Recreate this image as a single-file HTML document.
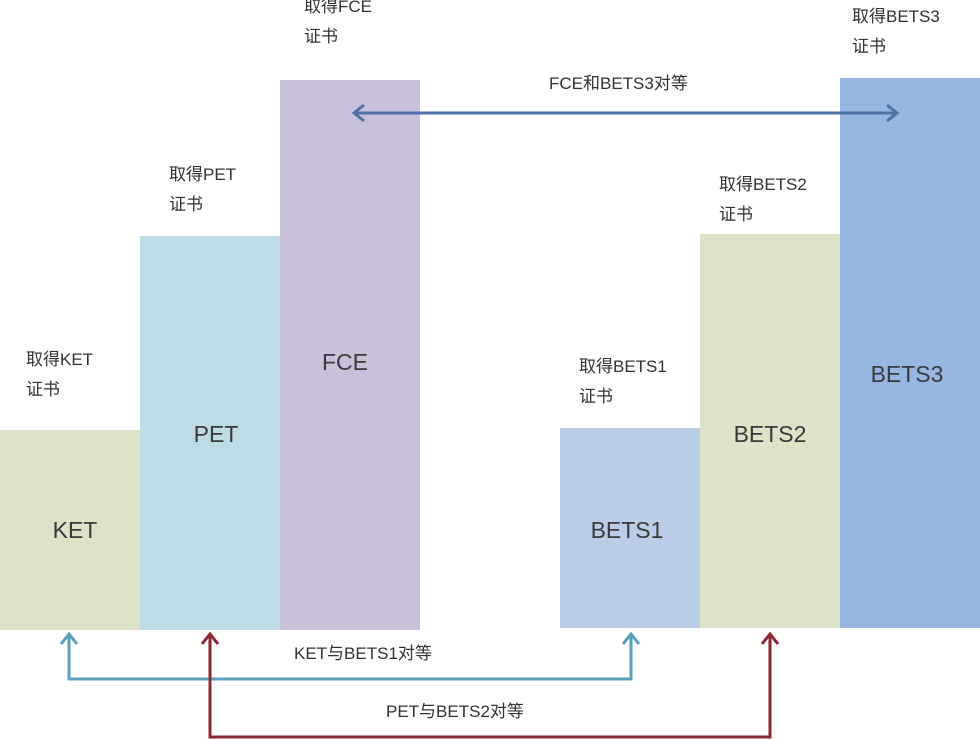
<!DOCTYPE html>
<html><head><meta charset="utf-8"><style>
body{margin:0;width:980px;height:739px;background:#fff;position:relative;overflow:hidden;font-family:"Liberation Sans","Noto Sans CJK SC",sans-serif;color:#333}
.r{position:absolute}
.l{position:absolute;font-size:23px;color:#3a3a3a;width:200px;text-align:center;line-height:30px}
.t{position:absolute;font-size:17px;line-height:30px;color:#333;white-space:nowrap}
</style></head><body>
<div class="r" style="left:0;top:430px;width:140px;height:200px;background:#dce3c7"></div>
<div class="r" style="left:140px;top:236px;width:140px;height:394px;background:#bddce6"></div>
<div class="r" style="left:280px;top:80px;width:140px;height:550px;background:#c9c1dc"></div>
<div class="r" style="left:560px;top:428px;width:140px;height:200px;background:#b9cde6"></div>
<div class="r" style="left:700px;top:234px;width:140px;height:394px;background:#dde3c6"></div>
<div class="r" style="left:840px;top:78px;width:140px;height:550px;background:#97b6e2"></div>
<div class="l" style="left:-25px;top:515px">KET</div>
<div class="l" style="left:116px;top:419px">PET</div>
<div class="l" style="left:245px;top:347px">FCE</div>
<div class="l" style="left:527px;top:515px">BETS1</div>
<div class="l" style="left:670px;top:419px">BETS2</div>
<div class="l" style="left:807px;top:359px">BETS3</div>
<div class="t" style="left:26px;top:345px">取得KET<br>证书</div>
<div class="t" style="left:169px;top:160px">取得PET<br>证书</div>
<div class="t" style="left:304px;top:-8px">取得FCE<br>证书</div>
<div class="t" style="left:579px;top:352px">取得BETS1<br>证书</div>
<div class="t" style="left:719px;top:170px">取得BETS2<br>证书</div>
<div class="t" style="left:852px;top:2px">取得BETS3<br>证书</div>
<div class="t" style="left:549px;top:69px">FCE和BETS3对等</div>
<div class="t" style="left:294px;top:639px">KET与BETS1对等</div>
<div class="t" style="left:386px;top:697px">PET与BETS2对等</div>
<svg width="980" height="739" style="position:absolute;left:0;top:0" fill="none" stroke-width="3">
<g stroke="#5a9fbd"><path d="M69 634V679H631V634"/><path d="M61 644L69 634L77 644M623 644L631 634L639 644"/></g>
<g stroke="#8b2a32"><path d="M210 634V737H770V634"/><path d="M202 644L210 634L218 644M762 644L770 634L778 644"/></g>
<g stroke="#4e72a6"><path d="M354 113H897"/><path d="M364 105L354 113L364 121M887 105L897 113L887 121"/></g>
</svg>
</body></html>
